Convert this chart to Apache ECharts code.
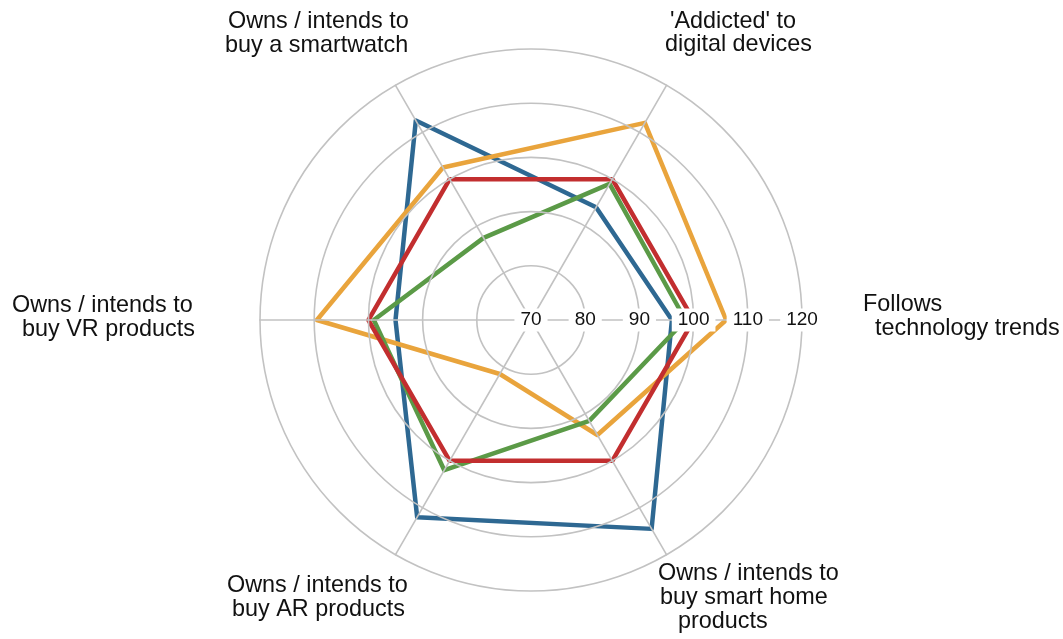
<!DOCTYPE html>
<html>
<head>
<meta charset="utf-8">
<script src="https://cdn.jsdelivr.net/npm/echarts@6/dist/echarts.min.js"></script>
<style>
  html, body { margin: 0; padding: 0; background: #ffffff; }
  #chart { width: 1063px; height: 639px; }
</style>
</head>
<body>
<div id="chart"></div>
<script>
// Indicators, counter-clockwise from the right-hand axis
const indicatorNames = [
  'Follows\ntechnology trends',
  "'Addicted' to\ndigital devices",
  'Owns / intends to\nbuy a smartwatch',
  'Owns / intends to\nbuy VR products',
  'Owns / intends to\nbuy AR products',
  'Owns / intends to\nbuy smart home\nproducts'
];

// Index scale (100 = average)
const scaleMin = 70;
const scaleMax = 120;
const scaleStep = 10;

const seriesNames = ['Segment A', 'Segment B', 'Segment C', 'Average'];
const seriesColors = ['#2e6892', '#e9a43c', '#5b9a47', '#c22e2f'];

const segmentA = [96, 94, 112.5, 95, 112, 114.5];
const segmentB = [106, 112, 102.5, 109.5, 81.5, 94.5];
const segmentC = [98.5, 99, 87.5, 99, 102, 91.5];
const average  = [100, 100, 100, 100, 100, 100];

// Placement of each line of the indicator names: [left x, middle y]
const nameLineLayout = [
  [[863, 305], [875, 329]],
  [[670, 22], [665, 45]],
  [[228, 22], [225, 46]],
  [[12, 306], [22, 330]],
  [[227, 586], [232, 610]],
  [[658, 574], [660, 598], [678, 622]]
];

const fontFamily = '"Liberation Sans", Arial, Helvetica, sans-serif';

const indicators = indicatorNames.map(function (name, i) {
  const ind = { name: name, min: scaleMin, max: scaleMax };
  if (i === 0) {
    ind.axisLabel = {
      show: true,
      margin: 0,
      align: 'center',
      verticalAlign: 'middle',
      fontSize: 19,
      fontFamily: fontFamily,
      color: '#111111',
      backgroundColor: '#ffffff',
      padding: [2, 6]
    };
  }
  return ind;
});

const nameGraphics = [];
indicatorNames.forEach(function (name, i) {
  name.split('\n').forEach(function (line, j) {
    const pos = nameLineLayout[i][j];
    nameGraphics.push({
      type: 'text',
      x: pos[0],
      y: pos[1],
      silent: true,
      style: {
        text: line,
        fill: '#111111',
        font: '23.4px ' + fontFamily,
        align: 'left',
        textAlign: 'left',
        verticalAlign: 'middle',
        textVerticalAlign: 'middle'
      }
    });
  });
});

const seriesValues = [segmentA, segmentB, segmentC, average];

const chart = echarts.init(document.getElementById('chart'), null, { renderer: 'canvas' });
chart.setOption({
  backgroundColor: '#ffffff',
  animation: false,
  radar: {
    z: 5,
    center: [531, 320],
    radius: 271,
    startAngle: 0,
    shape: 'circle',
    splitNumber: (scaleMax - scaleMin) / scaleStep,
    indicator: indicators,
    axisName: { show: false },
    axisLabel: { show: false },
    axisTick: { show: false },
    splitArea: { show: false },
    splitLine: { lineStyle: { color: '#c2c2c2', width: 1.6 } },
    axisLine: { lineStyle: { color: '#c2c2c2', width: 1.6 } }
  },
  graphic: { elements: nameGraphics },
  series: [{
    type: 'radar',
    z: 2,
    symbol: 'none',
    data: seriesValues.map(function (vals, k) {
      return {
        name: seriesNames[k],
        value: vals,
        lineStyle: { color: seriesColors[k], width: 4.5 },
        itemStyle: { color: seriesColors[k] }
      };
    })
  }]
});
</script>
</body>
</html>
